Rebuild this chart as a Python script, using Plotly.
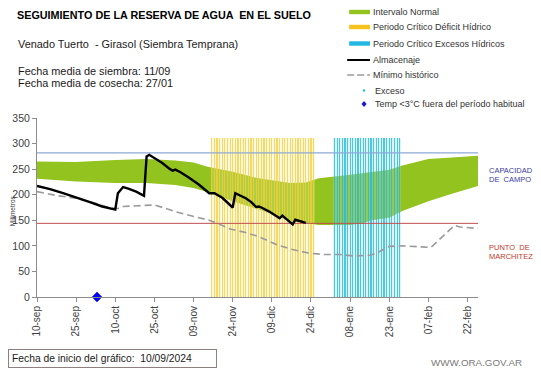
import pandas as pd
import plotly.graph_objects as go

# ---------------- data ----------------
FECHA_INICIO = "2024-09-10"
FECHA_FIN = "2025-02-26"

# Intervalo normal (green band), days since start
banda_dias = [0, 15, 30, 42, 53, 60, 65, 75, 85, 90, 97, 103, 106, 108, 120, 125, 128, 135, 140, 150, 159, 169]
banda_sup = [265, 264, 268, 270, 267, 263, 255, 245, 232, 228, 223, 224, 228, 232, 239, 242, 244, 249, 257, 270, 273, 276]
banda_inf = [231, 226, 223, 223, 219, 213, 206, 187, 171, 163, 148, 144, 142, 141, 141, 144, 150, 155, 168, 187, 202, 217]

# Almacenaje
alm_dias = [0, 5, 10, 15, 20, 25, 30, 31, 32, 33, 35, 38, 41, 42, 43, 45, 48, 51, 52, 53, 55, 58, 62, 66,
            68, 71, 75, 76, 78, 80, 82, 84, 85, 86, 89, 93, 94, 96, 98, 99, 101, 103]
alm_vals = [217, 211, 203, 195, 186, 177, 171, 203, 210, 215, 212, 206, 198, 275, 278, 272, 262, 250, 247, 249,
            244, 234, 220, 203, 203, 194, 175, 203, 198, 193, 186, 176, 177, 175, 167, 154, 159, 150, 142, 151,
            148, 145]

# Mínimo histórico
min_dias = [0, 8, 15, 22, 28, 31, 33, 40, 45, 50, 53, 59, 66, 70, 74, 80, 85, 92, 97, 104, 110, 116, 122, 128,
            131, 135, 140, 147, 151, 160, 162, 169]
min_vals = [206, 198, 193, 184, 174, 173, 177, 179, 180, 172, 167, 159, 150, 142, 133, 126, 118, 102, 94, 86, 83,
            83, 80, 82, 88, 99, 100, 98, 97, 140, 137, 134]

# Critical periods
PERIODO_DEFICIT = ("2024-11-16", "2024-12-25")
PERIODO_EXCESO = ("2025-01-02", "2025-01-27")
ALTURA_PERIODO = 310

# Events
temp_fechas = ["2024-10-03"]
temp_vals = [0]

CAPACIDAD_CAMPO = 282
PUNTO_MARCHITEZ = 144

tick_fechas = ["2024-09-10", "2024-09-25", "2024-10-10", "2024-10-25", "2024-11-09", "2024-11-24",
               "2024-12-09", "2024-12-24", "2025-01-08", "2025-01-23", "2025-02-07", "2025-02-22"]
tick_textos = ["10-sep", "25-sep", "10-oct", "25-oct", "09-nov", "24-nov",
               "09-dic", "24-dic", "08-ene", "23-ene", "07-feb", "22-feb"]

legend_labels = ["Intervalo Normal", "Periodo Crítico Déficit Hídrico", "Periodo Crítico Excesos Hídricos",
                 "Almacenaje", "Mínimo histórico", "Exceso", "Temp <3°C fuera del período habitual"]

# ---------------- helpers ----------------
start = pd.Timestamp(FECHA_INICIO)


def to_dates(dias):
    return [start + pd.Timedelta(days=d) for d in dias]


W, H = 541, 368
L, R, T, B = 33, 63, 118, 71
PW, PH = W - L - R, H - T - B


def px(x):
    return (x - L) / PW


def py(y):
    return (H - B - y) / PH


GREEN = "#93c31f"
YEL_KEY = "#f8c21c"
CYAN_KEY = "#22b8e4"

fig = go.Figure()

# green band (base subplot)
fig.add_trace(go.Scatter(x=to_dates(banda_dias), y=banda_inf, mode="lines", line=dict(width=0),
                         showlegend=False, hoverinfo="skip"))
fig.add_trace(go.Scatter(x=to_dates(banda_dias), y=banda_sup, mode="lines", line=dict(width=0),
                         fill="tonexty", fillcolor=GREEN, showlegend=False, hoverinfo="skip"))

# critical period stripes (overlay 2)
def_dates = pd.date_range(*PERIODO_DEFICIT, freq="D")
exc_dates = pd.date_range(*PERIODO_EXCESO, freq="D")
day_ms = 86400000
for fechas, pale, strong in [(def_dates, "rgba(252,232,140,0.30)", "rgba(244,206,60,0.75)"),
                             (exc_dates, "rgba(140,215,238,0.30)", "rgba(34,185,220,0.78)")]:
    fig.add_trace(go.Bar(x=fechas, y=[ALTURA_PERIODO] * len(fechas), width=day_ms,
                         marker=dict(color=pale, line=dict(width=0)),
                         xaxis="x2", yaxis="y2", showlegend=False, hoverinfo="skip"))
    fig.add_trace(go.Bar(x=fechas, y=[ALTURA_PERIODO] * len(fechas), width=day_ms * 0.45,
                         marker=dict(color=strong, line=dict(width=0)),
                         xaxis="x2", yaxis="y2", showlegend=False, hoverinfo="skip"))

# reference lines + series (overlay 3)
rng = [pd.Timestamp(FECHA_INICIO), pd.Timestamp(FECHA_FIN)]
fig.add_trace(go.Scatter(x=rng, y=[CAPACIDAD_CAMPO] * 2, mode="lines", line=dict(color="#8eaad6", width=1.3),
                         xaxis="x3", yaxis="y3", showlegend=False, hoverinfo="skip"))
fig.add_trace(go.Scatter(x=rng, y=[PUNTO_MARCHITEZ] * 2, mode="lines", line=dict(color="#c0504d", width=1),
                         xaxis="x3", yaxis="y3", showlegend=False, hoverinfo="skip"))
fig.add_trace(go.Scatter(x=to_dates(min_dias), y=min_vals, mode="lines",
                         line=dict(color="#9a9a9a", width=1.6, dash="7px,4px"),
                         xaxis="x3", yaxis="y3", showlegend=False))
fig.add_trace(go.Scatter(x=to_dates(alm_dias), y=alm_vals, mode="lines",
                         line=dict(color="#000000", width=2.4),
                         xaxis="x3", yaxis="y3", showlegend=False))
fig.add_trace(go.Scatter(x=temp_fechas, y=temp_vals, mode="markers",
                         marker=dict(symbol="diamond", size=8, color="#0000ee"),
                         cliponaxis=False, xaxis="x3", yaxis="y3", showlegend=False))

axis_font = dict(family="Liberation Sans, Arial, sans-serif", size=10, color="#404040")
xcommon = dict(type="date", range=rng)
fig.update_layout(
    width=W, height=H, margin=dict(l=L, r=R, t=T, b=B),
    paper_bgcolor="white", plot_bgcolor="white", showlegend=False,
    xaxis=dict(**xcommon, tickvals=tick_fechas, ticktext=tick_textos, tickangle=-90,
               showline=True, linecolor="#8c8c8c", linewidth=1, ticks="outside", ticklen=4,
               tickcolor="#8c8c8c", showgrid=False, zeroline=False, tickfont=axis_font),
    yaxis=dict(range=[0, 350], dtick=50, showline=True, linecolor="#8c8c8c", linewidth=1,
               ticks="outside", ticklen=4, tickcolor="#8c8c8c", showgrid=False, zeroline=False,
               tickfont=dict(family="Liberation Sans, Arial, sans-serif", size=10.5, color="#404040")),
    xaxis2=dict(**xcommon, overlaying="x", matches="x", visible=False),
    yaxis2=dict(range=[0, 350], overlaying="y", matches="y", visible=False),
    xaxis3=dict(**xcommon, overlaying="x", matches="x", visible=False),
    yaxis3=dict(range=[0, 350], overlaying="y", matches="y", visible=False),
    bargap=0, barmode="overlay",
)

FONT = "Liberation Sans, Arial, sans-serif"
ann = []


def text(x, y, s, size, color="#1a1a1a", bold=False, anchor="left", angle=0):
    ann.append(dict(x=px(x), y=py(y), xref="paper", yref="paper", text=f"<b>{s}</b>" if bold else s,
                    showarrow=False, xanchor=anchor, yanchor="middle", textangle=angle,
                    font=dict(family=FONT, size=size, color=color)))


text(11, 15, "SEGUIMIENTO DE LA RESERVA DE AGUA  EN EL SUELO", 10.8, "#000000", bold=True)
text(12, 44, "Venado Tuerto  - Girasol (Siembra Temprana)", 10.9)
text(12, 71, "Fecha media de siembra: 11/09", 10.9)
text(12, 83, "Fecha media de cosecha: 27/01", 10.9)
text(8, 211, "Milímetros", 6.5, "#333333", anchor="center", angle=-90)
text(487, 170, "CAPACIDAD", 7.5, "#3b3ba6")
text(487, 179.5, "DE  CAMPO", 7.5, "#3b3ba6")
text(487, 247, "PUNTO  DE", 7.5, "#c0392b")
text(487, 256, "MARCHITEZ", 7.5, "#c0392b")
text(429, 362, "WWW.ORA.GOV.AR", 9.8, "#7a7a7a")
ann.append(dict(x=px(4), y=py(358.5), xref="paper", yref="paper", xanchor="left", yanchor="middle",
                text="Fecha de inicio del gráfico:  10/09/2024", showarrow=False, width=201, align="left",
                bordercolor="#8f7f7f", borderwidth=1, borderpad=3, bgcolor="white",
                font=dict(family=FONT, size=10.3, color="#1a1a1a")))

# manual legend (labels as text)
leg_y = [12, 27, 43.5, 60, 75, 90.5, 104]
for i, lab in enumerate(legend_labels):
    text(370 if i < 5 else 372, leg_y[i], lab, 9, "#333333")

shapes = []
for i, col in enumerate([GREEN, YEL_KEY, CYAN_KEY]):
    shapes.append(dict(type="rect", xref="paper", yref="paper", x0=px(348), x1=px(369),
                       y0=py(leg_y[i] - 2.2), y1=py(leg_y[i] + 2.2), fillcolor=col, line=dict(width=0)))
shapes.append(dict(type="line", xref="paper", yref="paper", x0=px(346), x1=px(369), y0=py(leg_y[3]),
                   y1=py(leg_y[3]), line=dict(color="black", width=2)))
shapes.append(dict(type="line", xref="paper", yref="paper", x0=px(346), x1=px(369), y0=py(leg_y[4]),
                   y1=py(leg_y[4]), line=dict(color="#9a9a9a", width=1.5, dash="7px,3px")))
shapes.append(dict(type="circle", xref="paper", yref="paper", x0=px(361.8), x1=px(364.2),
                   y0=py(leg_y[5] - 1.2), y1=py(leg_y[5] + 1.2), fillcolor=CYAN_KEY, line=dict(width=0)))
cx, cy = 363, leg_y[6]
shapes.append(dict(type="path", xref="paper", yref="paper",
                   path=f"M {px(cx)},{py(cy - 3)} L {px(cx + 2.6)},{py(cy)} L {px(cx)},{py(cy + 3)} L {px(cx - 2.6)},{py(cy)} Z",
                   fillcolor="#1a1acc", line=dict(width=0)))

fig.update_layout(annotations=ann, shapes=shapes)
fig.write_html("out.html", config={"displayModeBar": False},
               post_script="document.body.style.margin='0';document.body.style.overflow='hidden';")
